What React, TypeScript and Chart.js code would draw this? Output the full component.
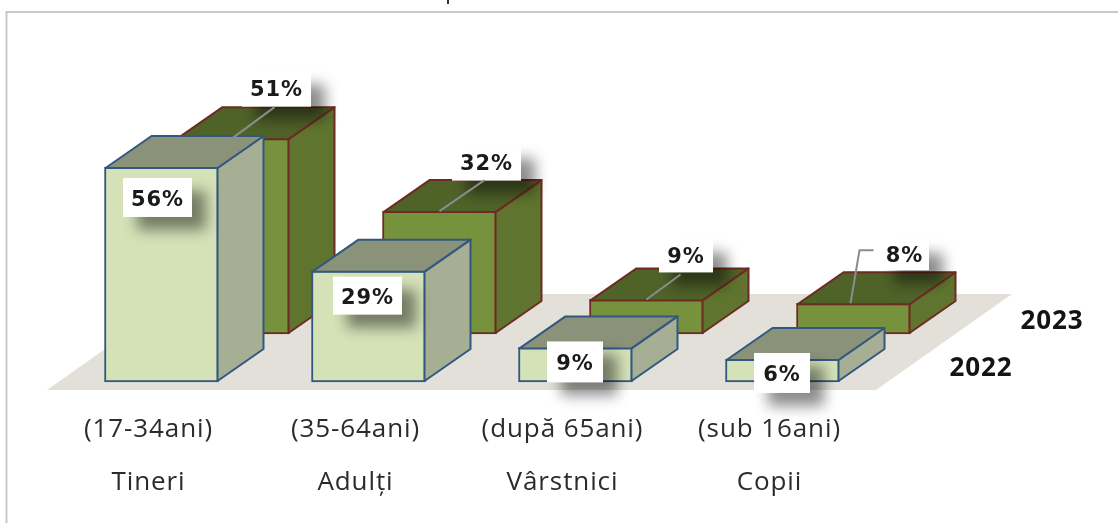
import React, { useEffect, useRef } from "react";
import { Chart, registerables } from "chart.js";

Chart.register(...registerables);

const names = ["Tineri", "Adulți", "Vârstnici", "Copii"];
const ages = ["(17-34ani)", "(35-64ani)", "(după 65ani)", "(sub 16ani)"];
const series2022 = [56, 29, 9, 6];
const series2023 = [51, 32, 9, 8];
const year2022 = "2022";
const year2023 = "2023";

const FONT_TEXT = '"Open Sans", "Noto Sans", sans-serif';
const FONT_VALUE = '"DejaVu Sans", sans-serif';
const DEPTH_X = 46;
const DEPTH_Y = -32;
const BACK_SHIFT = { x: 71, y: -48 };

const styles2022 = { face: "#d5e2b8", top: "#8b927a", side: "#a6ae93", line: "#31587f" };
const styles2023 = { face: "#76923c", top: "#4f6228", side: "#5f752f", line: "#6e2b22" };

const labelBoxes2022 = [
  { cx: -4, cy: 30.5, w: 69, h: 39 },
  { cx: -1, cy: 25, w: 69, h: 38 },
  { cx: -0.5, cy: 14.5, w: 56, h: 41 },
  { cx: -0.5, cy: 14, w: 56, h: 40 },
];
const labelBoxes2023 = [
  { cx: 44, cy: -49, w: 69, h: 35 },
  { cx: 47, cy: -48, w: 69, h: 35 },
  { cx: 39.5, cy: -43.5, w: 54, h: 33 },
  { cx: 51, cy: -48, w: 49, h: 30 },
];
const leaders2023 = [
  [[42, -31], [0, 0]],
  [[45, -31], [0, 0]],
  [[34, -25], [0, 0]],
  [[20, -53], [6, -53], [-3, 0]],
];

const shift = (i: number) => (i === 1 ? BACK_SHIFT : { x: 0, y: 0 });

const cubePlugin = {
  id: "cube3d",
  beforeDraw(chart: any) {
    chart.ctx.letterSpacing = "0.9px";
  },
  beforeDatasetsDraw(chart: any) {
    const { ctx, chartArea, scales } = chart;
    const bottom = scales.y.getPixelForValue(0);
    ctx.save();
    ctx.fillStyle = "#e3e0da";
    ctx.beginPath();
    ctx.moveTo(chartArea.left - 11, bottom + 8);
    ctx.lineTo(chartArea.right - 10, bottom + 8);
    ctx.lineTo(chartArea.right + 126, bottom - 88);
    ctx.lineTo(chartArea.left + 125, bottom - 88);
    ctx.closePath();
    ctx.fill();
    ctx.restore();
  },
  beforeDatasetDraw(chart: any, args: any) {
    const s = shift(args.index);
    chart.ctx.save();
    chart.ctx.translate(s.x, s.y);
  },
  afterDatasetDraw(chart: any, args: any) {
    const { ctx } = chart;
    const st = args.index === 0 ? styles2022 : styles2023;
    for (const bar of args.meta.data) {
      const l = bar.x - bar.width / 2 + 1;
      const r = bar.x + bar.width / 2 - 1;
      const t = bar.y + 1;
      const b = bar.base - 1;
      ctx.lineWidth = 2;
      ctx.lineJoin = "round";
      ctx.strokeStyle = st.line;
      ctx.fillStyle = st.side;
      ctx.beginPath();
      ctx.moveTo(r, t);
      ctx.lineTo(r + DEPTH_X, t + DEPTH_Y);
      ctx.lineTo(r + DEPTH_X, b + DEPTH_Y);
      ctx.lineTo(r, b);
      ctx.closePath();
      ctx.fill();
      ctx.stroke();
      ctx.fillStyle = st.top;
      ctx.beginPath();
      ctx.moveTo(l, t);
      ctx.lineTo(l + DEPTH_X, t + DEPTH_Y);
      ctx.lineTo(r + DEPTH_X, t + DEPTH_Y);
      ctx.lineTo(r, t);
      ctx.closePath();
      ctx.fill();
      ctx.stroke();
    }
    ctx.restore();
  },
  afterDatasetsDraw(chart: any) {
    const { ctx, scales, chartArea } = chart;
    const drawLabels = (idx: number, values: number[], boxes: any[], textDy: number) => {
      const s = shift(idx);
      chart.getDatasetMeta(idx).data.forEach((bar: any, i: number) => {
        const X = bar.x + s.x;
        const Y = bar.y + s.y;
        const box = boxes[i];
        const bx = X + box.cx;
        const by = Y + box.cy;
        ctx.save();
        ctx.shadowColor = "rgba(0,0,0,0.45)";
        ctx.shadowBlur = 14;
        ctx.shadowOffsetX = 14;
        ctx.shadowOffsetY = 13;
        ctx.fillStyle = "#ffffff";
        ctx.fillRect(bx - box.w / 2, by - box.h / 2, box.w, box.h);
        ctx.restore();
        if (idx === 1) {
          ctx.save();
          ctx.strokeStyle = "#8c8c8c";
          ctx.lineWidth = 2;
          ctx.beginPath();
          leaders2023[i].forEach((p, k) => {
            if (k === 0) ctx.moveTo(X + p[0], Y + p[1]);
            else ctx.lineTo(X + p[0], Y + p[1]);
          });
          ctx.stroke();
          ctx.restore();
        }
        ctx.save();
        ctx.fillStyle = "#1a1a1a";
        ctx.font = `bold 21px ${FONT_VALUE}`;
        ctx.textAlign = "center";
        ctx.textBaseline = "middle";
        ctx.fillText(`${values[i]}%`, bx, by + textDy);
        ctx.restore();
      });
    };
    drawLabels(1, series2023, labelBoxes2023, 1.5);
    drawLabels(0, series2022, labelBoxes2022, 3);

    ctx.save();
    ctx.textAlign = "center";
    ctx.textBaseline = "middle";
    ctx.fillStyle = "#141414";
    ctx.font = `bold 26px ${FONT_TEXT}`;
    ctx.fillText(year2023, chartArea.right + 166, scales.y.getPixelForValue(0) - 60);
    ctx.fillText(year2022, chartArea.right + 95, scales.y.getPixelForValue(0) - 13);
    ctx.restore();

    // frame of the picture
    ctx.save();
    ctx.strokeStyle = "#c9c9c9";
    ctx.lineWidth = 2;
    ctx.beginPath();
    ctx.moveTo(1118, 12);
    ctx.lineTo(6.5, 12);
    ctx.lineTo(6.5, 523);
    ctx.stroke();
    ctx.strokeStyle = "#333333";
    ctx.beginPath();
    ctx.moveTo(448, 0);
    ctx.lineTo(448, 4);
    ctx.stroke();
    ctx.restore();
  },
};

export default function App() {
  const ref = useRef<HTMLCanvasElement | null>(null);
  useEffect(() => {
    document.body.style.background = "#ffffff";
    const chart = new Chart(ref.current as HTMLCanvasElement, {
      type: "bar",
      data: {
        labels: names.map((n, i) => [ages[i], n]),
        datasets: [
          {
            label: year2022,
            data: series2022,
            backgroundColor: styles2022.face,
            borderColor: styles2022.line,
            borderWidth: 2,
            borderSkipped: false,
            clip: false,
          },
          {
            label: year2023,
            data: series2023,
            backgroundColor: styles2023.face,
            borderColor: styles2023.line,
            borderWidth: 2,
            borderSkipped: false,
            clip: false,
          },
        ] as any,
      },
      options: {
        responsive: false,
        animation: false,
        events: [],
        layout: { padding: { left: 58, right: 232, top: 36.4, bottom: 0 } },
        datasets: { bar: { grouped: false, barThickness: 114 } } as any,
        plugins: { legend: { display: false }, tooltip: { enabled: false } },
        scales: {
          x: {
            grid: { display: false },
            border: { display: false },
            afterFit: (s: any) => {
              s.height = 141;
            },
            ticks: {
              color: "#2b2b2b",
              font: { family: FONT_TEXT, size: 26, lineHeight: "53px" },
              padding: 13,
              labelOffset: -13,
              maxRotation: 0,
              autoSkip: false,
            },
          },
          y: { display: false, min: 0, max: 90 },
        },
      },
      plugins: [cubePlugin],
    } as any);
    return () => chart.destroy();
  }, []);
  return (
    <canvas
      ref={ref}
      width={1118}
      height={523}
      style={{ position: "absolute", left: 0, top: 0, display: "block", filter: "blur(0.7px)" }}
    />
  );
}
